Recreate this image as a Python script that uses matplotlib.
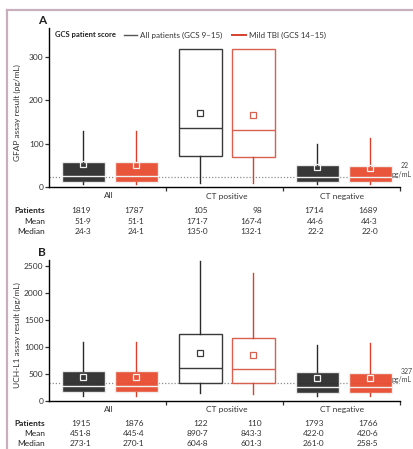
import matplotlib
matplotlib.use("Agg")
import matplotlib.pyplot as plt
from matplotlib.lines import Line2D

plt.rcParams['font.family'] = ['Lato', 'DejaVu Sans']

W, H = 413, 449

groups = ["All", "CT positive", "CT negative"]
series_labels = ["All patients (GCS 9–15)", "Mild TBI (GCS 14–15)"]

# GFAP summary per box: All / Mild TBI within each CT group
gfap_patients = [1819, 1787, 105, 98, 1714, 1689]
gfap_mean = [51.9, 51.1, 171.7, 167.4, 44.6, 44.3]
gfap_median = [24.3, 24.1, 135.0, 132.1, 22.2, 22.0]
gfap_q1 = [12, 12, 71, 68, 10, 10]
gfap_q3 = [57, 58, 320, 320, 50, 48]
gfap_lo = [6, 6, 9, 9, 6, 6]
gfap_hi = [130, 130, 320, 320, 100, 113]
gfap_cutoff = 22

# UCH-L1 summary per box
uchl1_patients = [1915, 1876, 122, 110, 1793, 1766]
uchl1_mean = [451.8, 445.4, 890.7, 843.3, 422.0, 420.6]
uchl1_median = [273.1, 270.1, 604.8, 601.3, 261.0, 258.5]
uchl1_q1 = [160, 160, 338, 327, 155, 155]
uchl1_q3 = [560, 560, 1238, 1170, 530, 512]
uchl1_lo = [95, 95, 150, 130, 92, 92]
uchl1_hi = [1100, 1100, 2600, 2370, 1035, 1070]
uchl1_cutoff = 327

positions = [0.88, 2.24, 3.88, 5.24, 6.88, 8.24]
dense = [True, True, False, False, True, True]
line_cols = ["#2a2a2a", "#d8402c"]
fill_cols = ["#262626", "#e8462a"]
outline_cols = ["#3a3a3a", "#d9604f"]


def fx(px):
    return px / W


def fy(py):
    return 1 - py / H


def fmt(v):
    return f"{v:.1f}".replace(".", "·")


def draw_panel(top_px, zero_px, ymax, yticks, patients, mean, median, q1, q3, lo, hi,
               cutoff, ylabel, letter, letter_px, table_px, group_px, cut_px):
    ax = plt.axes([fx(49), fy(zero_px), fx(400) - fx(49), (zero_px - top_px) / H])
    ax.set_xlim(0, 9)
    ax.set_ylim(0, ymax)
    for i, pos in enumerate(positions):
        s = i % 2
        st = dict(med=median[i], q1=q1[i], q3=q3[i], whislo=lo[i], whishi=hi[i], mean=mean[i])
        if dense[i]:
            edge = "#f2f2f2"
            face = fill_cols[s]
        else:
            edge = outline_cols[s]
            face = "none"
        ax.bxp([st], positions=[pos], widths=1.1, showmeans=True, showcaps=False,
               showfliers=False, patch_artist=True,
               boxprops=dict(facecolor=face, edgecolor=edge, linewidth=1.0,
                             alpha=0.92 if dense[i] else 1),
               medianprops=dict(color=edge, linewidth=1.0),
               whiskerprops=dict(color=line_cols[s], linewidth=1.0),
               meanprops=dict(marker="s", markersize=4, markerfacecolor="none",
                              markeredgecolor=edge, markeredgewidth=0.9))
    ax.axhline(cutoff, color="#8c8c8c", linestyle=(0, (1, 1.5)), linewidth=0.9, zorder=0)
    for sp in ["top", "right"]:
        ax.spines[sp].set_visible(False)
    ax.spines["left"].set_linewidth(1.0)
    ax.spines["bottom"].set_linewidth(1.0)
    ax.set_xticks([3, 6, 9])
    ax.set_xticklabels([])
    ax.set_yticks(yticks)
    ax.tick_params(axis="both", length=3, width=0.9, labelsize=6, colors="#333333", pad=1)

    fig.text(fx(17), fy((top_px + zero_px) / 2 + 5), ylabel, rotation=90, ha="center",
             va="center", fontsize=6, color="#333333")
    fig.text(fx(letter_px[0]), fy(letter_px[1]), letter, fontsize=8.5, fontweight="bold",
             ha="center", va="center", color="#222222")
    fig.text(fx(401), fy(cut_px), str(cutoff), fontsize=5, va="center", color="#444444")
    fig.text(fx(411), fy(cut_px + 8), "pg/mL", fontsize=5, ha="right", va="center",
             color="#444444")

    for g, gx in zip(groups, [109, 227, 342]):
        fig.text(fx(gx), fy(group_px), g, fontsize=6, ha="center", va="center", color="#333333")

    rows = [("Patients", [str(p) for p in patients], "bold"),
            ("Mean", [fmt(v) for v in mean], "normal"),
            ("Median", [fmt(v) for v in median], "normal")]
    xcols = [91, 144, 208, 262, 324, 378]
    for r, (lab, vals, wt) in enumerate(rows):
        yy = fy(table_px + r * 10.5)
        fig.text(fx(45), yy, lab, fontsize=6, ha="right", va="center", fontweight=wt,
                 color="#222222")
        for xc, v in zip(xcols, vals):
            fig.text(fx(xc), yy, v, fontsize=6, ha="right", va="center", color="#333333")
    return ax


fig = plt.figure(figsize=(W / 100, H / 100), dpi=100)

draw_panel(28, 186.7, 368, [0, 100, 200, 300], gfap_patients, gfap_mean, gfap_median,
           gfap_q1, gfap_q3, gfap_lo, gfap_hi, gfap_cutoff,
           "GFAP assay result (pg/mL)", "A", (42, 20), 210.7, 196, 166)
draw_panel(260, 401, 2610, [0, 500, 1000, 1500, 2000, 2500], uchl1_patients, uchl1_mean,
           uchl1_median, uchl1_q1, uchl1_q3, uchl1_lo, uchl1_hi, uchl1_cutoff,
           "UCH-L1 assay result (pg/mL)", "B", (42, 252), 423, 409.5, 371.5)

# legend strip above panel A
fig.text(fx(55), fy(35), "GCS patient score", fontsize=5.5, fontweight="bold", va="center",
         color="#222222")
fig.add_artist(Line2D([fx(124), fx(137)], [fy(35), fy(35)], color="#555555", linewidth=1.0))
fig.text(fx(140), fy(35), series_labels[0], fontsize=5.8, va="center", color="#333333")
fig.add_artist(Line2D([fx(232), fx(246)], [fy(35), fy(35)], color="#d8402c", linewidth=1.4))
fig.text(fx(249), fy(35), series_labels[1], fontsize=5.8, va="center", color="#333333")

# page frame
fig.add_artist(Line2D([fx(7), fx(7)], [fy(10), 0], color="#c9aec0", linewidth=1.6))
fig.add_artist(Line2D([fx(7), 1], [fy(10), fy(10)], color="#c9aec0", linewidth=1.6))

fig.savefig("out.png", dpi=100)
